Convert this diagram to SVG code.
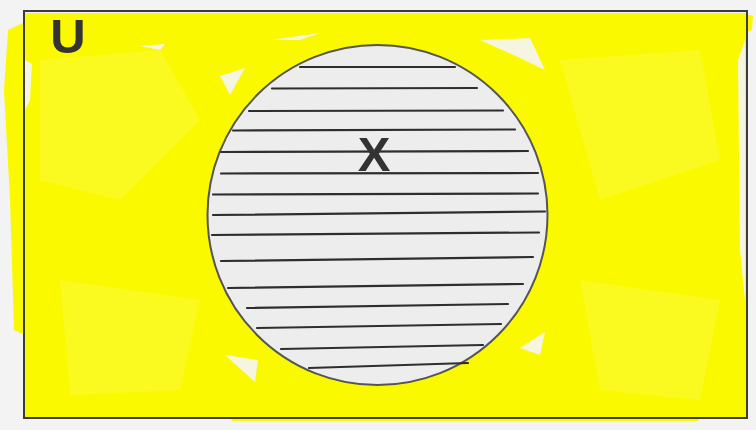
<svg xmlns="http://www.w3.org/2000/svg" width="756" height="430" viewBox="0 0 756 430">
  <style>
    .paint { fill: #fbf900; }
    .light { fill: #fdfc6a; opacity: 0.3; }
    .gap { fill: #f5f5e0; }
    .hatch { stroke: #2e2e2e; stroke-width: 2.2; stroke-linecap: round; fill: none; }
    .label { font-family: "Liberation Sans", Arial, sans-serif; font-weight: bold; font-size: 49px; fill: #333333; text-anchor: middle; }
  </style>
  <rect x="0" y="0" width="756" height="430" fill="#f3f3f3"/>
  <g id="universe">
    <rect class="paint" x="25" y="13" width="721" height="404"/>
    <path class="paint" d="M25,22 L8,30 L4,90 L10,200 L14,330 L25,335 Z"/>
    <path class="paint" d="M230,416 L700,416 L698,421 L232,421 Z"/>
    <path class="paint" d="M746,14 L753,16 L752,30 L746,32 Z"/>
    <path class="light" d="M40,60 L160,50 L200,120 L120,200 L40,180 Z"/>
    <path class="light" d="M560,60 L700,50 L720,160 L600,200 Z"/>
    <path class="light" d="M60,280 L200,300 L180,390 L70,395 Z"/>
    <path class="light" d="M580,280 L720,300 L700,400 L600,390 Z"/>
    <path class="gap" d="M140,46 L165,44 L160,50 Z"/>
    <path class="gap" d="M270,40 L320,33 L300,40 Z"/>
    <path class="gap" d="M480,40 L530,38 L545,70 L520,58 Z"/>
    <path class="gap" d="M220,76 L245,68 L230,95 Z"/>
    <path class="gap" d="M225,355 L258,360 L255,382 Z"/>
    <path class="gap" d="M520,348 L545,332 L540,355 Z"/>
    <path class="gap" d="M738,60 L745,40 L745,300 L740,250 Z"/>
    <path class="gap" d="M25,60 L32,64 L30,100 L25,110 Z"/>
    <rect x="24" y="11" width="723" height="407" fill="none" stroke="#3c3c3c" stroke-width="2"/>
    <text class="label" x="68" y="53">U</text>
  </g>
  <g id="set-x">
    <circle cx="377.5" cy="215" r="170" fill="#ededed" stroke="#555555" stroke-width="2"/>
    <g class="hatch">
      <line x1="300" y1="67" x2="455" y2="67"/>
      <line x1="272" y1="88.5" x2="477" y2="88"/>
      <line x1="249" y1="111" x2="503" y2="110.5"/>
      <line x1="233" y1="130.5" x2="515" y2="129.5"/>
      <line x1="221" y1="152" x2="528" y2="151"/>
      <line x1="221" y1="173.5" x2="538" y2="173"/>
      <line x1="213" y1="194.5" x2="538" y2="193.5"/>
      <line x1="213" y1="215" x2="545" y2="211.5"/>
      <line x1="212" y1="235" x2="539" y2="232.5"/>
      <line x1="221" y1="261" x2="533" y2="257"/>
      <line x1="228" y1="288" x2="523" y2="284"/>
      <line x1="247" y1="308" x2="508" y2="304"/>
      <line x1="257" y1="328" x2="501" y2="324"/>
      <line x1="281" y1="349" x2="483" y2="345"/>
      <line x1="309" y1="368" x2="468" y2="363"/>
    </g>
    <text class="label" x="374" y="171">X</text>
  </g>
</svg>
